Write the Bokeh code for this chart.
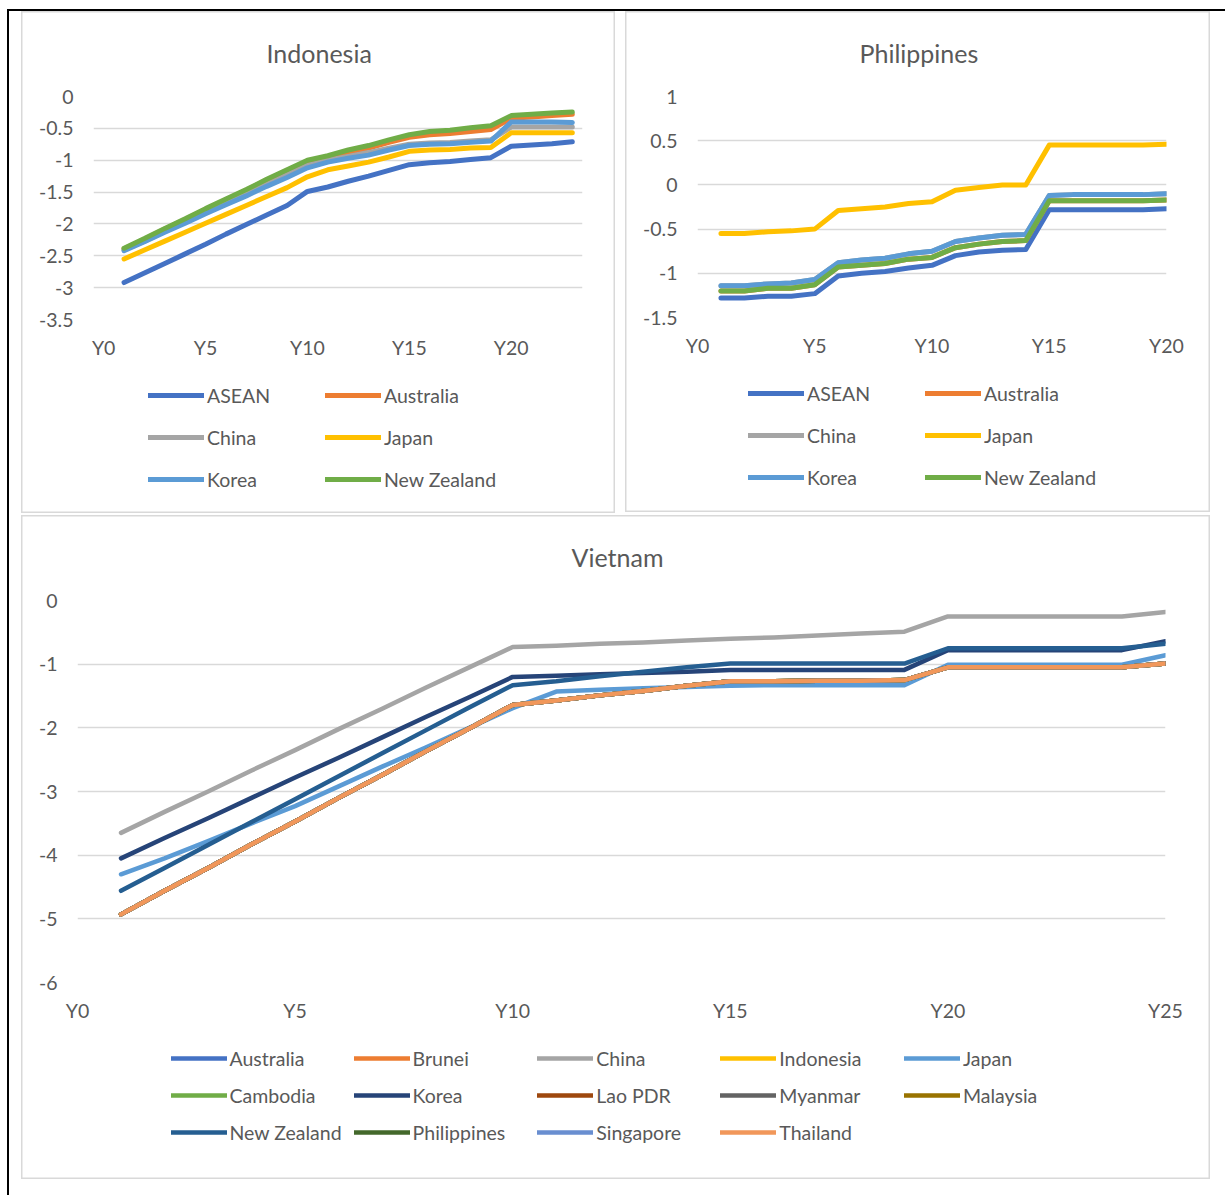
from bokeh.plotting import figure
from bokeh.models import Range1d, FixedTicker, Legend, LegendItem, Title
from bokeh.layouts import row, column
from bokeh.embed import file_html
from bokeh.resources import INLINE

FONT = "Lato"
TEXT_COLOR = "#595959"
GRID_COLOR = "#D9D9D9"

# ---------------- Indonesia ----------------
idn_years = list(range(1, 24))
idn_asean = [-2.92, -2.77, -2.62, -2.47, -2.32, -2.16, -2.01, -1.86, -1.71, -1.49,
             -1.42, -1.33, -1.25, -1.16, -1.07, -1.04, -1.02, -0.99, -0.96, -0.78,
             -0.76, -0.74, -0.71]
idn_australia = [-2.39, -2.24, -2.08, -1.93, -1.77, -1.62, -1.47, -1.31, -1.16, -1.03,
                 -0.96, -0.88, -0.81, -0.72, -0.64, -0.60, -0.58, -0.55, -0.52, -0.34,
                 -0.32, -0.30, -0.28]
idn_china = [-2.41, -2.27, -2.12, -1.97, -1.82, -1.67, -1.52, -1.38, -1.23, -1.08,
             -1.00, -0.94, -0.88, -0.81, -0.75, -0.73, -0.72, -0.70, -0.68, -0.48,
             -0.48, -0.48, -0.48]
idn_japan = [-2.55, -2.41, -2.27, -2.13, -1.99, -1.85, -1.71, -1.57, -1.43, -1.26,
             -1.15, -1.09, -1.03, -0.95, -0.86, -0.84, -0.83, -0.81, -0.80, -0.57,
             -0.57, -0.57, -0.57]
idn_korea = [-2.42, -2.28, -2.13, -1.99, -1.84, -1.70, -1.56, -1.41, -1.27, -1.12,
             -1.03, -0.97, -0.92, -0.84, -0.77, -0.75, -0.74, -0.72, -0.70, -0.40,
             -0.40, -0.40, -0.41]
idn_new_zealand = [-2.38, -2.23, -2.07, -1.92, -1.76, -1.61, -1.46, -1.30, -1.15, -1.00,
                   -0.93, -0.84, -0.77, -0.68, -0.60, -0.55, -0.53, -0.49, -0.46, -0.30,
                   -0.28, -0.26, -0.245]
idn_x_ticks = [0, 5, 10, 15, 20]
idn_x_labels = ["Y0", "Y5", "Y10", "Y15", "Y20"]
idn_y_ticks = [0, -0.5, -1, -1.5, -2, -2.5, -3, -3.5]
idn_y_labels = ["0", "-0.5", "-1", "-1.5", "-2", "-2.5", "-3", "-3.5"]

# ---------------- Philippines ----------------
phl_years = list(range(1, 21))
phl_asean = [-1.28, -1.28, -1.26, -1.26, -1.23, -1.03, -1.00, -0.98, -0.94, -0.91,
             -0.80, -0.76, -0.74, -0.73, -0.28, -0.28, -0.28, -0.28, -0.28, -0.27]
phl_australia = [-1.20, -1.20, -1.17, -1.17, -1.13, -0.93, -0.91, -0.89, -0.84, -0.82,
                 -0.71, -0.67, -0.64, -0.63, -0.18, -0.18, -0.18, -0.18, -0.18, -0.17]
phl_china = [-1.14, -1.14, -1.12, -1.11, -1.07, -0.88, -0.85, -0.83, -0.78, -0.75,
             -0.64, -0.60, -0.57, -0.56, -0.12, -0.11, -0.11, -0.11, -0.11, -0.10]
phl_japan = [-0.55, -0.55, -0.53, -0.52, -0.50, -0.29, -0.27, -0.25, -0.21, -0.19,
             -0.06, -0.03, 0.00, 0.00, 0.45, 0.45, 0.45, 0.45, 0.45, 0.46]
phl_korea = [-1.14, -1.14, -1.12, -1.11, -1.07, -0.88, -0.85, -0.83, -0.78, -0.75,
             -0.64, -0.60, -0.57, -0.56, -0.12, -0.11, -0.11, -0.11, -0.11, -0.10]
phl_new_zealand = [-1.20, -1.20, -1.17, -1.17, -1.13, -0.93, -0.91, -0.89, -0.84, -0.82,
                   -0.71, -0.67, -0.64, -0.63, -0.18, -0.18, -0.18, -0.18, -0.18, -0.17]
phl_x_ticks = [0, 5, 10, 15, 20]
phl_x_labels = ["Y0", "Y5", "Y10", "Y15", "Y20"]
phl_y_ticks = [1, 0.5, 0, -0.5, -1, -1.5]
phl_y_labels = ["1", "0.5", "0", "-0.5", "-1", "-1.5"]

# ---------------- Vietnam ----------------
vnm_years = list(range(1, 26))
vnm_china = [-3.65, -3.32, -3.00, -2.67, -2.35, -2.02, -1.70, -1.37, -1.05, -0.73,
             -0.71, -0.68, -0.66, -0.63, -0.60, -0.58, -0.55, -0.52, -0.49, -0.25,
             -0.25, -0.25, -0.25, -0.25, -0.18]
vnm_japan = [-4.30, -4.05, -3.78, -3.50, -3.23, -2.92, -2.61, -2.31, -2.00, -1.69,
             -1.43, -1.40, -1.38, -1.36, -1.34, -1.33, -1.33, -1.33, -1.33, -1.01,
             -1.01, -1.01, -1.01, -1.01, -0.86]
vnm_korea = [-4.05, -3.73, -3.42, -3.10, -2.78, -2.47, -2.15, -1.83, -1.52, -1.20,
             -1.18, -1.16, -1.14, -1.12, -1.09, -1.09, -1.09, -1.09, -1.09, -0.78,
             -0.78, -0.78, -0.78, -0.78, -0.64]
vnm_new_zealand = [-4.56, -4.20, -3.84, -3.48, -3.12, -2.76, -2.40, -2.04, -1.68, -1.33,
                   -1.27, -1.19, -1.12, -1.05, -0.99, -0.99, -0.99, -0.99, -0.99, -0.75,
                   -0.75, -0.75, -0.75, -0.75, -0.68]
# the remaining partners overlap one another under Thailand
vnm_thailand = [-4.93, -4.56, -4.20, -3.83, -3.47, -3.10, -2.74, -2.37, -2.01, -1.64,
                -1.57, -1.49, -1.42, -1.34, -1.27, -1.27, -1.26, -1.26, -1.25, -1.05,
                -1.05, -1.05, -1.05, -1.05, -0.99]
vnm_australia = vnm_thailand
vnm_brunei = vnm_thailand
vnm_indonesia = vnm_thailand
vnm_cambodia = vnm_thailand
vnm_lao = vnm_thailand
vnm_myanmar = vnm_thailand
vnm_malaysia = vnm_thailand
vnm_philippines = vnm_thailand
vnm_singapore = vnm_thailand
vnm_x_ticks = [0, 5, 10, 15, 20, 25]
vnm_x_labels = ["Y0", "Y5", "Y10", "Y15", "Y20", "Y25"]
vnm_y_ticks = [0, -1, -2, -3, -4, -5, -6]
vnm_y_labels = ["0", "-1", "-2", "-3", "-4", "-5", "-6"]


def build(title, title_offset, title_standoff, width, chart_h, legend_h, borders,
          x_range, y_range, x_ticks, x_labels, y_ticks, y_labels, x, series,
          line_width, legend_columns, legend_col_x, legend_y, legend_spacing, margin):
    left, right, top, bottom = borders
    p = figure(width=width, height=chart_h, output_backend="svg",
               toolbar_location=None,
               x_range=Range1d(*x_range), y_range=Range1d(*y_range),
               min_border_left=left, min_border_right=right,
               min_border_top=top, min_border_bottom=bottom)
    p.border_fill_color = None
    p.background_fill_color = None
    p.outline_line_color = None
    p.title = Title(text=title, align="left", offset=title_offset,
                    vertical_align="top",
                    text_font=FONT, text_font_size="25px",
                    text_font_style="normal", text_color=TEXT_COLOR,
                    standoff=title_standoff)

    xt = FixedTicker(ticks=x_ticks, minor_ticks=[])
    yt = FixedTicker(ticks=y_ticks, minor_ticks=[])
    for ax, tk, labels, stand in ((p.xaxis[0], xt, dict(zip(x_ticks, x_labels)), 16),
                                  (p.yaxis[0], yt, dict(zip(y_ticks, y_labels)), 20)):
        ax.ticker = tk
        ax.major_label_overrides = labels
        ax.axis_line_color = None
        ax.major_tick_line_color = None
        ax.minor_tick_line_color = None
        ax.major_tick_out = 0
        ax.major_tick_in = 0
        ax.major_label_standoff = stand
        ax.major_label_text_font = FONT
        ax.major_label_text_font_size = "19.5px"
        ax.major_label_text_color = TEXT_COLOR
    p.xgrid.grid_line_color = None
    p.ygrid.ticker = yt
    p.ygrid.grid_line_color = GRID_COLOR
    p.ygrid.grid_line_width = 1.5

    # legend strip below the chart: its frame holds the legend keys, and its
    # ranges keep the key renderers' own data out of sight
    lp = figure(width=width, height=legend_h, output_backend="svg",
                toolbar_location=None, x_axis_type=None, y_axis_type=None,
                x_range=Range1d(-1000, -999), y_range=Range1d(1000, 1001),
                min_border=0)
    lp.border_fill_color = None
    lp.background_fill_color = None
    lp.outline_line_color = None
    lp.grid.visible = False

    keys = {}
    for name, values, color in series:
        p.line(x, values, line_color=color, line_width=line_width,
               line_cap="round", line_join="round")
        keys[name] = lp.line(x, values, line_color=color, line_width=line_width,
                             line_cap="round", line_join="round")

    pitch = 30 + legend_spacing
    for names, lx in zip(legend_columns, legend_col_x):
        lg = Legend(items=[LegendItem(label=n, renderers=[keys[n]]) for n in names],
                    location=(lx, legend_y + (3 - len(names)) * pitch),
                    orientation="vertical",
                    glyph_width=56, glyph_height=30, label_height=30,
                    label_standoff=3, spacing=legend_spacing, padding=0, margin=0,
                    border_line_color=None, background_fill_alpha=0,
                    label_text_font=FONT, label_text_font_size="19.5px",
                    label_text_color=TEXT_COLOR)
        lp.add_layout(lg)

    return column(p, lp, margin=margin,
                  styles={"box-shadow": "inset 0 0 0 1.5px " + GRID_COLOR})


c1 = build("Indonesia", 173, 53, 594, 353, 149, (72, 33, 85, 45),
           (-0.5, 23.5), (-3.5, 0),
           idn_x_ticks, idn_x_labels, idn_y_ticks, idn_y_labels, idn_years,
           [("ASEAN", idn_asean, "#4472C4"), ("Australia", idn_australia, "#ED7D31"),
            ("China", idn_china, "#A5A5A5"), ("Japan", idn_japan, "#FFC000"),
            ("Korea", idn_korea, "#5B9BD5"), ("New Zealand", idn_new_zealand, "#70AD47")],
           5, [["ASEAN", "China", "Korea"], ["Australia", "Japan", "New Zealand"]],
           [55, 232], 19, 12, (11, 0, 0, 21))

c2 = build("Philippines", 162, 53, 585, 351, 150, (72, 44, 85, 45),
           (0, 20), (-1.5, 1),
           phl_x_ticks, phl_x_labels, phl_y_ticks, phl_y_labels, phl_years,
           [("ASEAN", phl_asean, "#4472C4"), ("Australia", phl_australia, "#ED7D31"),
            ("China", phl_china, "#A5A5A5"), ("Japan", phl_japan, "#FFC000"),
            ("Korea", phl_korea, "#5B9BD5"), ("New Zealand", phl_new_zealand, "#70AD47")],
           5, [["ASEAN", "China", "Korea"], ["Australia", "Japan", "New Zealand"]],
           [51, 228], 20, 12, (11, 15, 0, 10))

c3 = build("Vietnam", 494, 53, 1189, 515, 149, (56, 45, 85, 48),
           (0, 25), (-6, 0),
           vnm_x_ticks, vnm_x_labels, vnm_y_ticks, vnm_y_labels, vnm_years,
           [("Australia", vnm_australia, "#4472C4"), ("Brunei", vnm_brunei, "#ED7D31"),
            ("China", vnm_china, "#A5A5A5"), ("Indonesia", vnm_indonesia, "#FFC000"),
            ("Japan", vnm_japan, "#5B9BD5"), ("Cambodia", vnm_cambodia, "#70AD47"),
            ("Korea", vnm_korea, "#264478"), ("Lao PDR", vnm_lao, "#9E480E"),
            ("Myanmar", vnm_myanmar, "#636363"), ("Malaysia", vnm_malaysia, "#997300"),
            ("New Zealand", vnm_new_zealand, "#255E91"), ("Philippines", vnm_philippines, "#43682B"),
            ("Singapore", vnm_singapore, "#698ED0"), ("Thailand", vnm_thailand, "#F1975A")],
           4.5, [["Australia", "Cambodia", "New Zealand"], ["Brunei", "Korea", "Philippines"],
                 ["China", "Lao PDR", "Singapore"], ["Indonesia", "Myanmar", "Thailand"],
                 ["Japan", "Malaysia"]],
           [93.5, 276.6, 460.3, 643.3, 827], 32, 7, (2, 0, 16, 21))

root = column(row(c1, c2), c3,
              styles={"box-shadow": "inset 7px 9px 0 0 #ffffff, inset 9px 11px 0 0 #000000"})

with open("out.html", "w") as f:
    f.write(file_html(root, INLINE))
